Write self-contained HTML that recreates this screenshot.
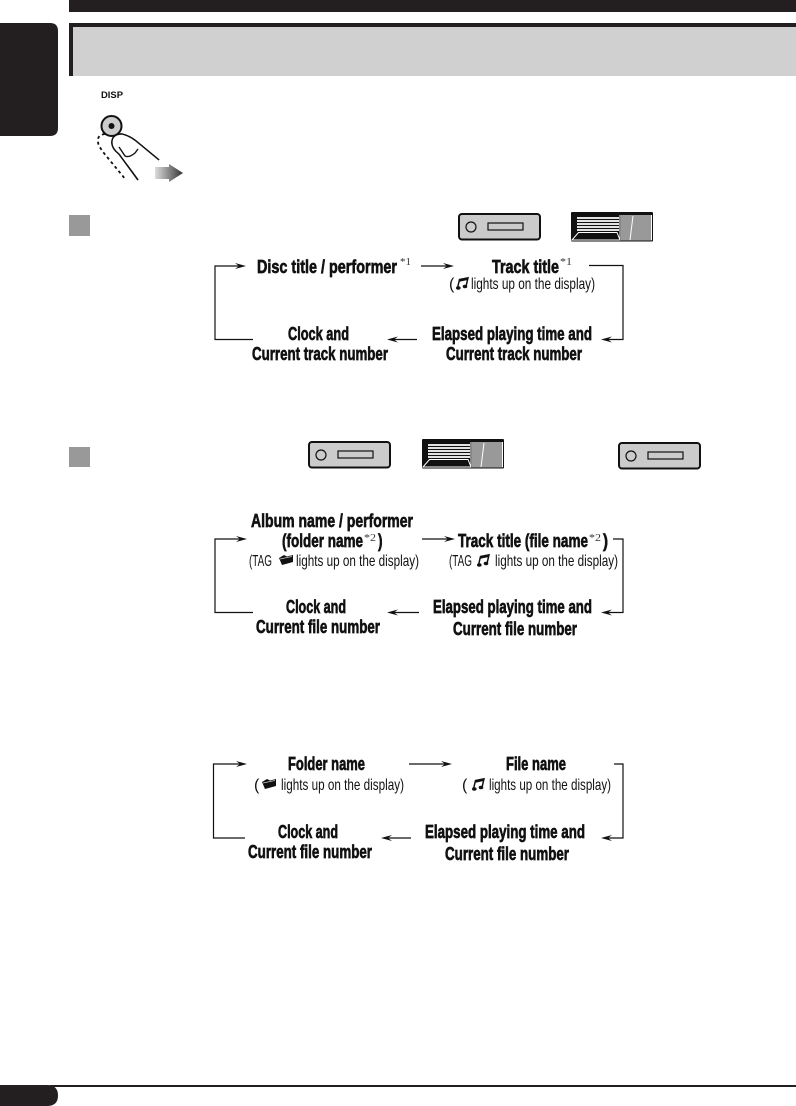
<!DOCTYPE html>
<html><head><meta charset="utf-8"><style>
html,body{margin:0;padding:0;background:#fff}
svg{display:block}
text{font-family:"Liberation Sans",sans-serif;fill:#111}
.b{font-weight:bold;font-size:18px;stroke:#111;stroke-width:.65px}
.r{font-size:16px}
.s{font-family:"Liberation Serif",serif;font-size:10px;fill:#333}
.l{fill:none;stroke:#111;stroke-width:1.2}
</style></head><body>
<svg width="796" height="1106" viewBox="0 0 796 1106" xmlns="http://www.w3.org/2000/svg">
<defs>
<linearGradient id="g" x1="0" x2="1" y1="0" y2="0"><stop offset="0" stop-color="#ddd"/><stop offset="1" stop-color="#333"/></linearGradient>
<g id="dev">
<rect x="1" y="1" width="81" height="25.500" rx="3" fill="#cbcbcb" stroke="#111" stroke-width="2"/>
<circle cx="13" cy="14" r="5" fill="#cbcbcb" stroke="#111" stroke-width="1.200"/>
<rect x="30" y="10" width="35" height="7" fill="#cbcbcb" stroke="#111" stroke-width="1.200"/>
</g>
<g id="disp">
<rect x="0" y="0" width="82" height="29.500" rx="1" fill="#111"/>
<rect x="50" y="3" width="31" height="25.500" fill="#999"/>
<path d="M6 6H48M6 9H48M6 12H48M6 15H48M6 18H48" stroke="#fff" stroke-width="1.700"/>
<path d="M1 28L7.500 20.500H46L49 28Z" fill="#111" stroke="#fff" stroke-width="1"/>
<path d="M49 3V28M62 4L59 28M80.500 3V28" stroke="#fff" stroke-width="1"/>
</g>
<g id="note"><path d="M1.500 11L3.500 2.500L12 .8L10 9.500M3.300 4L11.500 2.300" fill="none" stroke="#111" stroke-width="1.500"/><ellipse cx="2.300" cy="11" rx="2.300" ry="1.700" fill="#111"/><ellipse cx="9" cy="9.500" rx="2.300" ry="1.700" fill="#111"/></g>
<g id="folder"><path d="M0 4L5 1L8 2.500L14 1V8L3 11Z" fill="#111"/><path d="M1 5L13 2.500" stroke="#ccc" stroke-width=".7"/></g>
<path id="ar" d="M0 0L-11 -3L-7 0L-11 3Z" fill="#111"/>
<path id="al" d="M0 0L11 -3L7 0L11 3Z" fill="#111"/>
</defs>

<rect x="69" y="0" width="727" height="12" fill="#231f20"/>
<rect x="69" y="23" width="727" height="53" fill="#d0d0d0"/>
<rect x="69" y="23" width="727" height="4" fill="#231f20"/>
<rect x="69" y="23" width="4" height="53" fill="#231f20"/>
<path d="M0 23H50Q58 23 58 31V128Q58 136 50 136H0Z" fill="#231f20"/>

<text x="101" y="98" style="font-size:9px;font-weight:bold" textLength="22" lengthAdjust="spacingAndGlyphs">DISP</text>
<circle cx="111.500" cy="126" r="10" fill="#ccc" stroke="#111" stroke-width="2"/>
<circle cx="111.500" cy="126" r="3" fill="#111"/>
<path d="M105 134Q95 135 99 146L103 152L126 180" fill="none" stroke="#111" stroke-width="1.800" stroke-dasharray="3 3"/>
<path d="M112 141Q113 134 122 134Q130 136 136 141L159 160" fill="#fff" stroke="#111" stroke-width="1.500"/>
<path d="M112 141Q111 148 119 154L138 180" fill="none" stroke="#111" stroke-width="1.500"/>
<path d="M122 134Q130 136 136 141L159 160L145 172L132 170L119 154Q111 148 112 141Q113 134 122 134Z" fill="#fff"/>
<path d="M122 134Q130 136 136 141L159 160M112 141Q111 148 119 154L138 180M112 141Q113 134 122 134M119 147L125 156Q129 158 135 153L138 149" fill="none" stroke="#111" stroke-width="1.400"/>
<path d="M155 167H169V164L183 173L169 182V179H155Z" fill="url(#g)"/>

<rect x="69" y="215" width="21" height="21" fill="#999"/>
<use href="#dev" x="458" y="213"/>
<use href="#disp" x="571" y="212"/>
<rect x="69" y="447" width="21" height="20" fill="#999"/>
<use href="#dev" x="308" y="441"/>
<use href="#disp" x="422" y="439"/>
<use href="#dev" x="618" y="442"/>

<!-- Section 1 -->
<text class="b" x="257" y="273" textLength="140" lengthAdjust="spacingAndGlyphs">Disc title / performer</text>
<text class="s" x="400" y="265" textLength="11" lengthAdjust="spacingAndGlyphs">*1</text>
<text class="b" x="492" y="273" textLength="67" lengthAdjust="spacingAndGlyphs">Track title</text>
<text class="s" x="560" y="265" textLength="12" lengthAdjust="spacingAndGlyphs">*1</text>
<text class="r" x="449" y="289">(</text>
<use href="#note" x="456" y="277"/>
<text class="r" x="471" y="289" textLength="124" lengthAdjust="spacingAndGlyphs">lights up on the display)</text>
<text class="b" x="288" y="340" textLength="61" lengthAdjust="spacingAndGlyphs">Clock and</text>
<text class="b" x="252" y="360" textLength="136" lengthAdjust="spacingAndGlyphs">Current track number</text>
<text class="b" x="432" y="340" textLength="160" lengthAdjust="spacingAndGlyphs">Elapsed playing time and</text>
<text class="b" x="446" y="360" textLength="136" lengthAdjust="spacingAndGlyphs">Current track number</text>
<path class="l" d="M253 339.500H215V266H240M421 266H448M589 265.500H623V339.500H606M417 339.500H392"/>
<use href="#ar" x="246" y="266"/><use href="#ar" x="454" y="266"/><use href="#al" x="601" y="339.500"/><use href="#al" x="387" y="339.500"/>

<!-- Section 2 -->
<text class="b" x="251" y="527" textLength="162" lengthAdjust="spacingAndGlyphs">Album name / performer</text>
<text class="b" x="282" y="547" textLength="81" lengthAdjust="spacingAndGlyphs">(folder name</text>
<text class="s" x="364" y="541" textLength="12" lengthAdjust="spacingAndGlyphs">*2</text>
<text class="b" x="378" y="547" textLength="4.500" lengthAdjust="spacingAndGlyphs">)</text>
<text class="r" x="249" y="566" textLength="23" lengthAdjust="spacingAndGlyphs">(TAG</text>
<use href="#folder" x="279" y="554"/>
<text class="r" x="296" y="566" textLength="123" lengthAdjust="spacingAndGlyphs">lights up on the display)</text>
<text class="b" x="458" y="547" textLength="130" lengthAdjust="spacingAndGlyphs">Track title (file name</text>
<text class="s" x="589" y="541" textLength="12" lengthAdjust="spacingAndGlyphs">*2</text>
<text class="b" x="603" y="547" textLength="5" lengthAdjust="spacingAndGlyphs">)</text>
<text class="r" x="449" y="566" textLength="23" lengthAdjust="spacingAndGlyphs">(TAG</text>
<use href="#note" x="477" y="554"/>
<text class="r" x="495" y="566" textLength="123" lengthAdjust="spacingAndGlyphs">lights up on the display)</text>
<text class="b" x="286" y="613" textLength="60" lengthAdjust="spacingAndGlyphs">Clock and</text>
<text class="b" x="256" y="633" textLength="124" lengthAdjust="spacingAndGlyphs">Current file number</text>
<text class="b" x="433" y="613" textLength="159" lengthAdjust="spacingAndGlyphs">Elapsed playing time and</text>
<text class="b" x="453" y="635" textLength="124" lengthAdjust="spacingAndGlyphs">Current file number</text>
<path class="l" d="M253 612.500H215V539H241M422 539H449M613 539H623V612.500H606M419 612.500H392"/>
<use href="#ar" x="247" y="539"/><use href="#ar" x="455" y="539"/><use href="#al" x="601" y="612.500"/><use href="#al" x="387" y="612.500"/>

<!-- Section 3 -->
<text class="b" x="288" y="770" textLength="77" lengthAdjust="spacingAndGlyphs">Folder name</text>
<text class="r" x="254" y="790">(</text>
<use href="#folder" x="262" y="778"/>
<text class="r" x="281" y="790" textLength="123" lengthAdjust="spacingAndGlyphs">lights up on the display)</text>
<text class="b" x="506" y="770" textLength="60" lengthAdjust="spacingAndGlyphs">File name</text>
<text class="r" x="462" y="790">(</text>
<use href="#note" x="472" y="778"/>
<text class="r" x="489" y="790" textLength="122" lengthAdjust="spacingAndGlyphs">lights up on the display)</text>
<text class="b" x="278" y="838" textLength="60" lengthAdjust="spacingAndGlyphs">Clock and</text>
<text class="b" x="248" y="858" textLength="124" lengthAdjust="spacingAndGlyphs">Current file number</text>
<text class="b" x="425" y="838" textLength="160" lengthAdjust="spacingAndGlyphs">Elapsed playing time and</text>
<text class="b" x="445" y="860" textLength="124" lengthAdjust="spacingAndGlyphs">Current file number</text>
<path class="l" d="M245 838H213.500V764H241M409 764H446M614 764H623V838H606M411 838H386"/>
<use href="#ar" x="247" y="764"/><use href="#ar" x="452" y="764"/><use href="#al" x="601" y="838"/><use href="#al" x="381" y="838"/>

<rect x="50" y="1085" width="746" height="2" fill="#231f20"/>
<path d="M0 1085H47Q58 1085 58 1095.500Q58 1106 47 1106H0Z" fill="#231f20"/>
</svg>
</body></html>
